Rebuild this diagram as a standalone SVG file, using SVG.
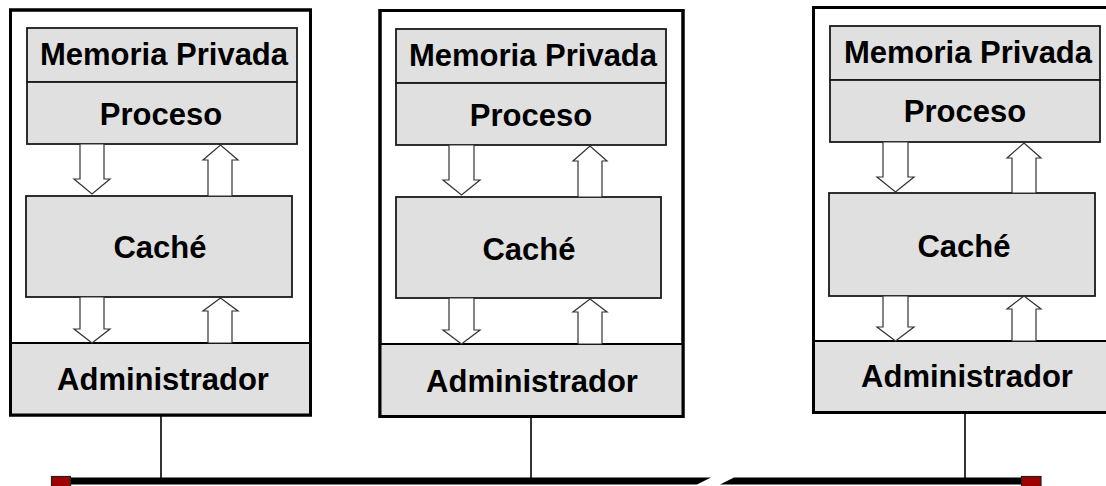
<svg xmlns="http://www.w3.org/2000/svg" width="1106" height="486" viewBox="0 0 1106 486">
  <style>
    .frame { fill: #ffffff; stroke: #000000; stroke-width: 3; }
    .edge { fill: none; stroke: #000000; stroke-width: 3; }
    .blk { fill: #e0e0e0; stroke: #1a1a1a; stroke-width: 1.8; }
    .adm { fill: #e0e0e0; stroke: #000000; stroke-width: 2; }
    .lbl { font-family: "Liberation Sans", Arial, sans-serif; font-weight: bold; font-size: 31px; fill: #000000; text-anchor: middle; }
    .flow { fill: #ffffff; stroke: #333333; stroke-width: 1.2; stroke-linejoin: miter; }
    .link { stroke: #000000; stroke-width: 1.6; fill: none; }
    .bus { fill: #000000; }
    .term { fill: #a00000; stroke: #222222; stroke-width: 1.2; }
  </style>

  <rect width="1106" height="486" fill="#ffffff"/>

  <!-- node 1 -->
  <g id="node1">
    <rect class="frame" x="10.5" y="10" width="300" height="405"/>
    <rect class="blk" x="27" y="28" width="270" height="54"/>
    <rect class="blk" x="27" y="82" width="270" height="62"/>
    <rect class="blk" x="26" y="196" width="266" height="101"/>
    <rect class="adm" x="10.5" y="343" width="300" height="72"/>
    <rect class="edge" x="10.5" y="10" width="300" height="405"/>
    <text class="lbl" x="164" y="65">Memoria Privada</text>
    <text class="lbl" x="161" y="125">Proceso</text>
    <text class="lbl" x="160" y="258">Caché</text>
    <text class="lbl" x="163" y="390">Administrador</text>
    <polygon class="flow" points="80,144 104,144 104,179 110,179 92,194 74,179 80,179"/>
    <polygon class="flow" points="208,196 208,160 203,160 220.5,145 238,160 232,160 232,196"/>
    <polygon class="flow" points="80,297 104,297 104,329 110,329 92,343 74,329 80,329"/>
    <polygon class="flow" points="208,343 208,311 203,311 220.5,298 238,311 232,311 232,343"/>
  </g>

  <!-- node 2 -->
  <g id="node2">
    <rect class="frame" x="380" y="10.5" width="303" height="406"/>
    <rect class="blk" x="396" y="29" width="270" height="54"/>
    <rect class="blk" x="396" y="83" width="270" height="62"/>
    <rect class="blk" x="396" y="197" width="265" height="101"/>
    <rect class="adm" x="380" y="344" width="303" height="72.5"/>
    <rect class="edge" x="380" y="10.5" width="303" height="406"/>
    <text class="lbl" x="533" y="66">Memoria Privada</text>
    <text class="lbl" x="531" y="126">Proceso</text>
    <text class="lbl" x="529" y="260">Caché</text>
    <text class="lbl" x="532" y="392">Administrador</text>
    <polygon class="flow" points="449,145 474,145 474,180 480,180 461.5,195 443,180 449,180"/>
    <polygon class="flow" points="578,197 578,161 573,161 590,146 607,161 602,161 602,197"/>
    <polygon class="flow" points="449,298 474,298 474,330 480,330 461.5,344 443,330 449,330"/>
    <polygon class="flow" points="578,344 578,312 573,312 590,299 607,312 602,312 602,344"/>
  </g>

  <!-- node 3 (runs off the right edge) -->
  <g id="node3">
    <rect class="frame" x="813.5" y="7.5" width="300" height="405"/>
    <rect class="blk" x="830" y="26" width="270" height="54"/>
    <rect class="blk" x="830" y="80" width="270" height="62"/>
    <rect class="blk" x="829" y="193" width="266" height="103"/>
    <rect class="adm" x="813.5" y="341" width="300" height="71.5"/>
    <rect class="edge" x="813.5" y="7.5" width="300" height="405"/>
    <text class="lbl" x="968" y="63">Memoria Privada</text>
    <text class="lbl" x="965" y="122">Proceso</text>
    <text class="lbl" x="964" y="257">Caché</text>
    <text class="lbl" x="967" y="387">Administrador</text>
    <polygon class="flow" points="883,142 908,142 908,177 914,177 895.5,192 877,177 883,177"/>
    <polygon class="flow" points="1012,193 1012,158 1007,158 1024,143 1041,158 1036,158 1036,193"/>
    <polygon class="flow" points="883,296 908,296 908,327 914,327 895.5,341 877,327 883,327"/>
    <polygon class="flow" points="1012,341 1012,309 1007,309 1024,296 1041,309 1036,309 1036,341"/>
  </g>

  <!-- bus with a break, drop lines and end terminators -->
  <g id="connectors">
    <line class="link" x1="161" y1="415" x2="161" y2="479"/>
    <line class="link" x1="531" y1="417" x2="531" y2="479"/>
    <line class="link" x1="965" y1="412" x2="965" y2="479"/>
    <polygon class="bus" points="70,477.5 711,477.5 697,484.5 70,484.5"/>
    <polygon class="bus" points="734,477.5 1022,477.5 1022,484.5 720,484.5"/>
    <rect class="term" x="51.5" y="476.5" width="19" height="10"/>
    <rect class="term" x="1021.5" y="476.5" width="19.5" height="10"/>
  </g>
</svg>
